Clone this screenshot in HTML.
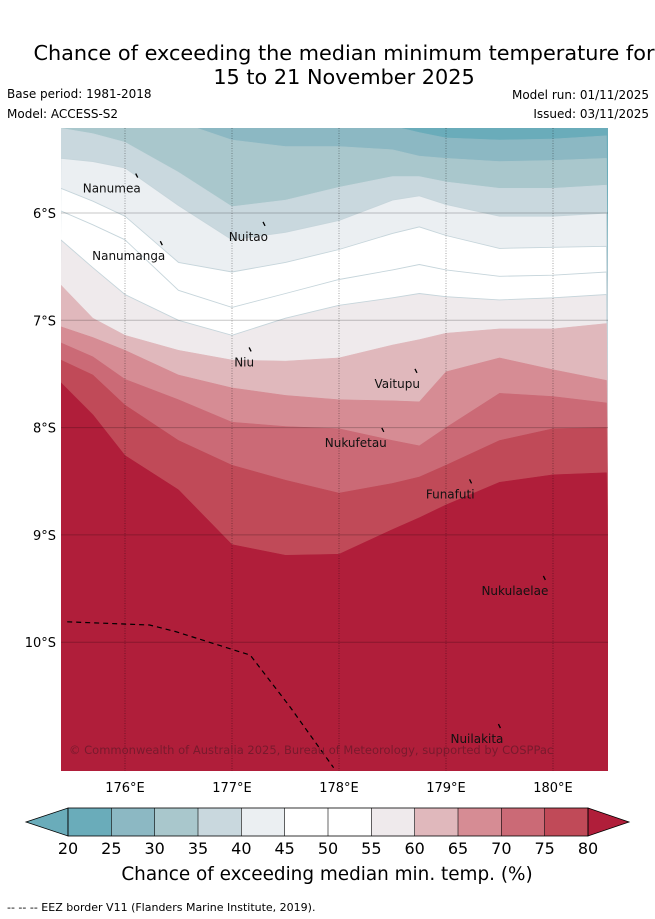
<!DOCTYPE html>
<html><head><meta charset="utf-8"><style>
html,body{margin:0;padding:0;background:#fff;width:655px;height:919px;overflow:hidden;font-family:"Liberation Sans","DejaVu Sans",sans-serif}
svg{display:block}
</style></head><body>
<svg id="chart" width="655" height="919" viewBox="0 0 655 919" xmlns="http://www.w3.org/2000/svg" font-family="'DejaVu Sans','Liberation Sans',sans-serif">
<text x="344" y="60" font-size="20.8" text-anchor="middle" fill="#000">Chance of exceeding the median minimum temperature for</text>
<text x="344" y="84" font-size="20.8" text-anchor="middle" fill="#000">15 to 21 November 2025</text>
<text x="7" y="98" font-size="12">Base period: 1981-2018</text>
<text x="7" y="118" font-size="12">Model: ACCESS-S2</text>
<text x="649" y="99" font-size="12" text-anchor="end">Model run: 01/11/2025</text>
<text x="649" y="118" font-size="12" text-anchor="end">Issued: 03/11/2025</text>
<defs><clipPath id="plotclip"><rect x="61" y="128" width="547" height="643"/></clipPath></defs>
<g id="bands" clip-path="url(#plotclip)"></g>
<g id="grid" clip-path="url(#plotclip)"></g>
<g id="eez" clip-path="url(#plotclip)"></g>
<g id="islands"></g>
<text x="69" y="754" font-size="11.5" fill="#6e1a2c" fill-opacity="0.85">© Commonwealth of Australia 2025, Bureau of Meteorology, supported by COSPPac</text>
<g id="axes"></g>
<g id="cbar"></g>
<text x="327" y="880" font-size="18.4" text-anchor="middle">Chance of exceeding median min. temp. (%)</text>
<text x="7" y="911" font-size="11">--  --  -- EEZ border V11 (Flanders Marine Institute, 2019).</text>
</svg>
<script>
const lons = [175.4,175.7,176,176.5,177,177.5,178,178.5,178.75,179,179.5,180,180.5];
const b25 = [5.13,5.13,5.13,5.13,5.13,5.13,5.13,5.19,5.25,5.30,5.32,5.31,5.28];
const b30 = [5.13,5.13,5.13,5.15,5.32,5.38,5.38,5.41,5.47,5.49,5.52,5.51,5.49];
const b35 = [5.21,5.26,5.34,5.62,5.94,5.88,5.76,5.66,5.66,5.71,5.77,5.77,5.74];
const b40 = [5.49,5.52,5.58,5.93,6.25,6.18,6.07,5.88,5.84,5.92,6.03,6.03,6.00];
const b45 = [5.77,5.89,6.03,6.46,6.55,6.46,6.34,6.19,6.13,6.21,6.33,6.32,6.31];
const b50 = [5.98,6.11,6.25,6.72,6.88,6.75,6.62,6.53,6.48,6.53,6.59,6.58,6.55];
const b55 = [6.25,6.51,6.76,7.00,7.14,6.98,6.86,6.79,6.75,6.78,6.81,6.79,6.76];
const b60 = [6.67,6.98,7.14,7.28,7.37,7.38,7.35,7.23,7.18,7.12,7.08,7.08,7.03];
const b65 = [7.06,7.16,7.28,7.51,7.63,7.70,7.74,7.75,7.76,7.48,7.35,7.46,7.56];
const b70 = [7.21,7.34,7.55,7.74,7.95,7.99,8.01,8.12,8.17,8.00,7.68,7.71,7.77];
const b75 = [7.37,7.51,7.79,8.12,8.35,8.49,8.61,8.52,8.46,8.35,8.12,8.01,8.00];
const b80 = [7.58,7.88,8.26,8.58,9.09,9.19,9.18,8.95,8.84,8.72,8.51,8.44,8.42];
const levels = [20,25,30,35,40,45,50,55,60,65,70,75,80];
const colors = ["#6aacba","#8cb8c3","#a9c7cc","#c9d8de","#ebeff2","#ffffff","#ffffff","#efeaec","#e0b8bc","#d68c94","#cb6a76","#c04a58","#b01e3a"];
const bounds = [b25,b30,b35,b40,b45,b50,b55,b60,b65,b70,b75,b80];
const latTicks = [6,7,8,9,10];
const lonTicks = [176,177,178,179,180];
const eezLon = [175.46,176.23,176.47,177.17,177.54,177.95];
const eezLat = [9.81,9.84,9.90,10.12,10.60,11.17];
const islandNames = ["Nanumea","Nuitao","Nanumanga","Niu","Vaitupu","Nukufetau","Funafuti","Nukulaelae","Nuilakita"];
const islandLon = [176.10,177.29,176.33,177.16,178.71,178.40,179.22,179.91,179.49];
const islandLat = [5.67,6.12,6.30,7.29,7.49,8.04,8.52,9.42,10.80];

const NS="http://www.w3.org/2000/svg";
const X0=61,X1=608,Y0=128,Y1=771;
const xS = lon => 125 + (lon-176)*107;
const yS = lat => 213 + (lat-6)*107.3;
function mk(tag,attrs,parent){const e=document.createElementNS(NS,tag);for(const k in attrs)e.setAttribute(k,attrs[k]);parent.appendChild(e);return e;}

const gB=document.getElementById('bands');
const bg=mk('rect',{x:X0,y:Y0,width:X1-X0,height:Y1-Y0,fill:colors[0]},gB);


bounds.forEach((b,i)=>{
  let d='M'+(xS(lons[0])-5)+','+(Y1+10);
  lons.forEach((lo,j)=>{d+=' L'+xS(lo).toFixed(1)+','+yS(b[j]).toFixed(1);});
  d+=' L'+(xS(lons[lons.length-1])+5)+','+(Y1+10)+' Z';
  const p=mk('path',{d:d,fill:colors[i+1],stroke:(i>=3&&i<=6)?'#c6d5db':colors[i+1],'stroke-width':(i>=3&&i<=6)?0.9:0.5},gB);
  
  
});

const gG=document.getElementById('grid');
latTicks.forEach(l=>{const ln=mk('line',{x1:X0,x2:X1,y1:yS(l),y2:yS(l),stroke:'#000','stroke-opacity':0.22,'stroke-width':1},gG);

});
lonTicks.forEach(l=>{const ln=mk('line',{x1:xS(l),x2:xS(l),y1:Y0,y2:Y1,stroke:'#000','stroke-opacity':0.35,'stroke-width':1,'stroke-dasharray':'1,1.5'},gG);

});

const gE=document.getElementById('eez');
const eez=mk('polyline',{points:eezLon.map((lo,i)=>xS(lo).toFixed(1)+','+yS(eezLat[i]).toFixed(1)).join(' '),fill:'none',stroke:'#000','stroke-width':1.2,'stroke-dasharray':'5,4'},gE);



const gI=document.getElementById('islands');
islandNames.forEach((n,i)=>{
  const x=xS(islandLon[i]),y=yS(islandLat[i]);
  const m=mk('path',{d:'M'+x+','+(y-4)+' l2,4',stroke:'#000','stroke-width':1.3,fill:'none'},gI);
  
  
  const t=mk('text',{x:x+5,y:y+15,'font-size':12,'text-anchor':'end',fill:'#111'},gI);
  t.textContent=n;
  
  
});

const gA=document.getElementById('axes');
latTicks.forEach(l=>{const t=mk('text',{x:56,y:yS(l)+5,'font-size':13,'text-anchor':'end'},gA);t.textContent=l+'°S';

});
lonTicks.forEach(l=>{const t=mk('text',{x:xS(l),y:792,'font-size':13,'text-anchor':'middle'},gA);t.textContent=l+'°E';

});

const gC=document.getElementById('cbar');
const cx0=68,cx1=588,cy0=808,cy1=836,seg=(cx1-cx0)/(levels.length-1);
const lt=mk('polygon',{points:`26,822 ${cx0},${cy0} ${cx0},${cy1}`,fill:colors[0],stroke:'#000','stroke-width':0.8},gC);


for(let i=0;i<levels.length-1;i++){
  const r=mk('rect',{x:cx0+i*seg,y:cy0,width:seg,height:cy1-cy0,fill:colors[i]},gC);
  
  
}
const rt=mk('polygon',{points:`${cx1},${cy0} 629,822 ${cx1},${cy1}`,fill:colors[colors.length-1],stroke:'#000','stroke-width':0.8},gC);


const fr=mk('rect',{x:cx0,y:cy0,width:cx1-cx0,height:cy1-cy0,fill:'none',stroke:'#000','stroke-width':0.8},gC);


levels.forEach((v,i)=>{
  const x=cx0+i*seg;
  const tk=mk('line',{x1:x,x2:x,y1:cy0,y2:cy1,stroke:'#000','stroke-width':0.6},gC);
  
  
  const t=mk('text',{x:x,y:854,'font-size':16,'text-anchor':'middle'},gC);
  t.textContent=v;
  
  
});
</script>
</body></html>
